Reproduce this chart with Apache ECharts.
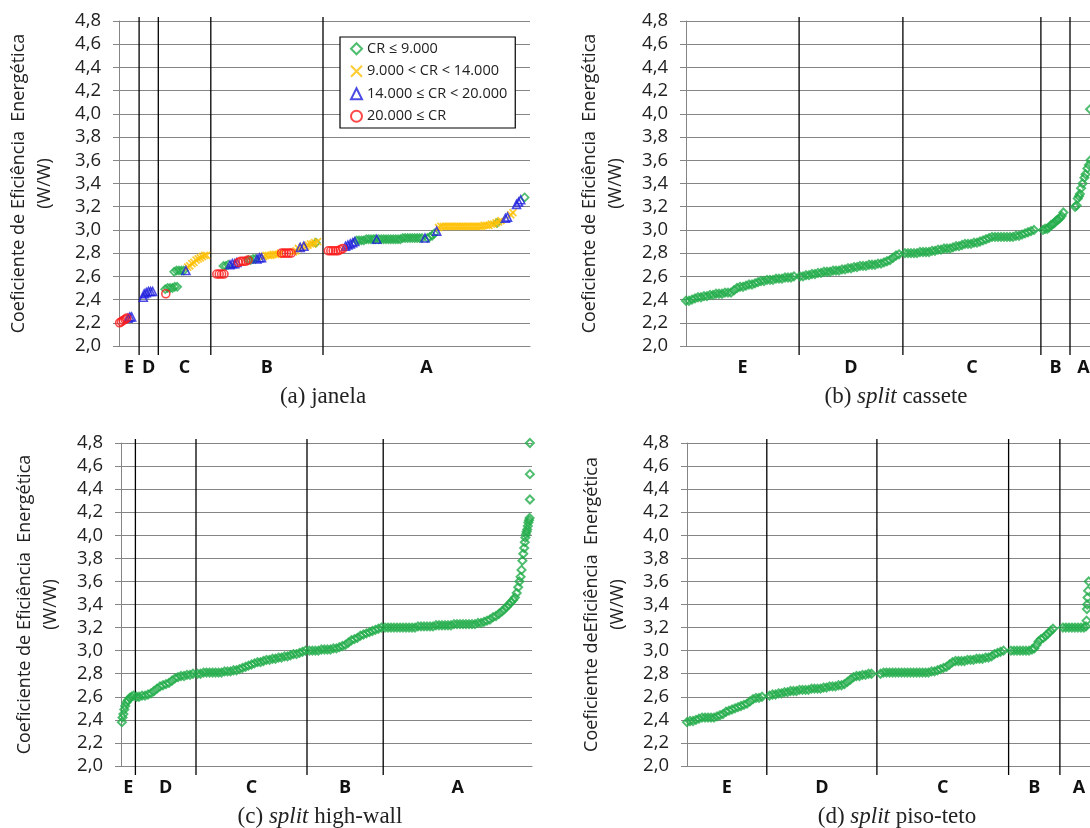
<!DOCTYPE html>
<html><head><meta charset="utf-8">
<script src="https://cdn.jsdelivr.net/npm/echarts@6/dist/echarts.min.js"></script>
<style>html,body{margin:0;padding:0;background:#fff}#c{width:1090px;height:828px}</style>
</head><body><div id="c"></div>
<script>
// ---------- DATA ----------
const yTickLabels = ['2,0','2,2','2,4','2,6','2,8','3,0','3,2','3,4','3,6','3,8','4,0','4,2','4,4','4,6','4,8'];
const classLabels = ['E','D','C','B','A'];
const legendNames = ['CR \u2264 9.000','9.000 < CR < 14.000','14.000 \u2264 CR < 20.000','20.000 \u2264 CR'];

// class boundaries (rank units) per panel
const janelaBounds   = [0, 6.7, 13.1, 30.6, 68, 137];
const casseteBounds  = [0, 37.7, 72.3, 118.3, 128, 137];
const highwallBounds = [0, 4.8, 25, 62, 87.4, 137];
const pisotetoBounds = [0, 26.6, 63.3, 107.2, 124.3, 137];

// (a) janela - [rank, COP]
const janelaGreen = [[15.4,2.49],[16.2,2.50],[17,2.50],[17.8,2.50],[18.6,2.51],[19.4,2.51],
[18.4,2.64],[19.2,2.65],[20,2.65],[20.8,2.65],[21.6,2.65],
[34.8,2.69],[35.6,2.69],[36.4,2.70],
[43.1,2.74],[43.9,2.74],[44.7,2.75],[45.5,2.75],
[65.6,2.89],
[79.2,2.91],[80,2.91],[80.8,2.91],[81.6,2.91],[82.4,2.92],[83.2,2.92],[84,2.92],[84.8,2.92],[85.4,2.92],[86.6,2.92],[87.4,2.92],[88.2,2.92],[89,2.92],[89.8,2.92],[90.6,2.92],[91.4,2.92],[92.2,2.92],[93,2.92],[93.8,2.92],[94.6,2.93],[95.4,2.93],[96.2,2.93],[97,2.93],[97.8,2.93],[98.6,2.93],[99.4,2.93],[100.2,2.93],[101,2.93],[102.8,2.93],[103.6,2.94],[104.4,2.95],[105.1,2.97],
[126,3.06],
[135.2,3.28]];
const janelaYellow = [[22.9,2.68],[23.6,2.69],[24.3,2.71],[25,2.72],[25.7,2.74],[26.4,2.75],[27.1,2.76],[27.8,2.77],[28.5,2.78],[29.2,2.78],
[48.2,2.77],[49,2.78],[49.8,2.78],[50.6,2.78],[51.4,2.79],[52.2,2.79],[53,2.79],[53.8,2.80],
[58.2,2.81],[59,2.82],[59.8,2.84],[61,2.85],[62.3,2.86],[63,2.87],[63.8,2.88],[64.6,2.88],[65.2,2.89],[66.2,2.90],
[106.5,3.02],[107.3,3.03],[108.1,3.03],[108.9,3.03],[109.7,3.03],[110.5,3.03],[111.3,3.03],[112.1,3.03],[112.9,3.03],[113.7,3.03],[114.5,3.03],[115.3,3.03],[116.1,3.03],[116.9,3.03],[117.7,3.03],[118.5,3.03],[119.3,3.03],[120.1,3.03],[120.9,3.03],[121.7,3.04],[122.5,3.04],[123.3,3.04],[124.1,3.05],[124.9,3.05],[125.7,3.06],[126.5,3.07],[127.3,3.08],
[130.6,3.13],[131.3,3.15]];
const janelaBlue = [[3,2.24],[3.6,2.25],[4.2,2.25],
[8.1,2.42],[8.4,2.45],[9.1,2.46],[9.8,2.47],[10.5,2.47],[11.2,2.47],
[22.3,2.65],
[37,2.70],[37.8,2.71],[38.6,2.71],[39.3,2.72],
[46,2.75],[46.8,2.76],[47.5,2.76],
[60.4,2.85],[61.6,2.86],
[75.5,2.86],[76.3,2.87],[77.1,2.88],[77.9,2.89],[78.6,2.90],
[85.9,2.92],[102,2.93],[105.9,2.99],
[128.8,3.10],[129.5,3.11],
[132.5,3.22],[133.2,3.24],[133.9,3.26]];
const janelaRed = [[0.2,2.20],[0.8,2.21],[1.4,2.22],[2,2.23],[2.6,2.24],
[15.6,2.45],
[32.6,2.62],[33.4,2.62],[34.2,2.62],[35,2.62],
[39.8,2.72],[40.6,2.73],[41.4,2.73],[42.2,2.73],[43,2.74],
[54.2,2.80],[55,2.80],[55.8,2.80],[56.6,2.80],[57.4,2.80],
[69.8,2.82],[70.6,2.82],[71.4,2.82],[72.2,2.82],[73,2.82],[73.8,2.83],[74.6,2.84]];

// (b) split cassete
const cassete = [[0,2.39],[1,2.39],[2,2.40],[3,2.41],[4,2.42],[5,2.42],[6,2.43],[7,2.43],[8,2.44],[9,2.44],[10,2.45],[11,2.45],[12,2.45],[13,2.46],[14,2.46],[15,2.46],[16,2.48],[17,2.50],[18,2.51],[19,2.51],[20,2.52],[21,2.53],[22,2.53],[23,2.54],[24,2.55],[25,2.56],[26,2.56],[27,2.57],[28,2.57],[29,2.57],[30,2.58],[31,2.58],[32,2.58],[33,2.59],[34,2.59],[35,2.59],[36,2.60],
[38,2.60],[39,2.60],[40,2.61],[41,2.61],[42,2.62],[43,2.62],[44,2.63],[45,2.63],[46,2.64],[47,2.64],[48,2.64],[49,2.65],[50,2.65],[51,2.65],[52,2.66],[53,2.66],[54,2.67],[55,2.67],[56,2.68],[57,2.68],[58,2.69],[59,2.69],[60,2.69],[61,2.70],[62,2.70],[63,2.70],[64,2.71],[65,2.71],[66,2.72],[67,2.73],[68,2.74],[69,2.76],[70,2.78],[71,2.79],
[73,2.80],[74,2.80],[75,2.80],[76,2.80],[77,2.80],[78,2.81],[79,2.81],[80,2.81],[81,2.81],[82,2.82],[83,2.82],[84,2.83],[85,2.83],[86,2.84],[87,2.84],[88,2.84],[89,2.85],[90,2.86],[91,2.86],[92,2.87],[93,2.88],[94,2.88],[95,2.88],[96,2.89],[97,2.89],[98,2.90],[99,2.91],[100,2.92],[101,2.93],[102,2.94],[103,2.94],[104,2.94],[105,2.94],[106,2.94],[107,2.94],[108,2.94],[109,2.94],[110,2.95],[111,2.95],[112,2.96],[113,2.97],[114,2.98],[115,2.99],[116,3.00],
[119,3.00],[119.7,3.01],[120.4,3.01],[121,3.02],[121.6,3.04],[122.2,3.05],[122.8,3.06],[123.4,3.08],[124,3.09],[124.6,3.10],[125.2,3.12],[125.8,3.15],
[129.7,3.20],[130.2,3.21],[130.6,3.27],[131,3.29],[131.3,3.31],[131.7,3.36],[132.2,3.40],[132.8,3.45],[133.2,3.48],[133.8,3.53],[134.3,3.56],[134.8,3.60],[134.7,4.04]];

// (c) split high-wall
const highwall = [[0.3,2.38],[0.5,2.42],[0.8,2.45],[1.1,2.49],[1.4,2.52],[1.8,2.55],[2.3,2.57],[2.9,2.59],[3.5,2.60],[4.2,2.61],
[5.2,2.60],[6,2.60],[7,2.61],[8,2.61],[9,2.62],[10,2.63],[11,2.65],[12,2.67],[13,2.69],[14,2.70],[15,2.71],[16,2.72],[17,2.74],[18,2.76],[19,2.77],[20,2.78],[21,2.78],[22,2.79],[23,2.79],[24,2.80],
[25.5,2.80],[26.5,2.80],[27.5,2.81],[28.5,2.81],[29.5,2.81],[30.5,2.81],[31.5,2.81],[32.5,2.81],[33.5,2.81],[34.5,2.82],[35.5,2.82],[36.5,2.82],[37.5,2.83],[38.5,2.83],[39.5,2.84],[40.5,2.85],[41.5,2.86],[42.5,2.87],[43.5,2.88],[44.5,2.89],[45.5,2.90],[46.5,2.90],[47.5,2.91],[48.5,2.92],[49.5,2.92],[50.5,2.93],[51.5,2.93],[52.5,2.94],[53.5,2.94],[54.5,2.95],[55.5,2.95],[56.5,2.96],[57.5,2.97],[58.5,2.97],[59.5,2.98],[60.5,2.99],[61.5,3.00],
[62.8,3.00],[63.8,3.00],[64.8,3.00],[65.8,3.00],[66.8,3.01],[67.8,3.01],[68.8,3.01],[69.8,3.01],[70.8,3.02],[71.8,3.02],[72.8,3.03],[73.8,3.04],[74.8,3.05],[75.8,3.07],[76.8,3.09],[77.8,3.10],[78.8,3.11],[79.8,3.13],[80.8,3.14],[81.8,3.15],[82.8,3.16],[83.8,3.17],[84.8,3.18],[85.8,3.19],[86.8,3.20],
[88,3.20],[89,3.20],[90,3.20],[91,3.20],[92,3.20],[93,3.20],[94,3.20],[95,3.20],[96,3.20],[97,3.20],[98,3.20],[99,3.21],[100,3.21],[101,3.21],[102,3.21],[103,3.21],[104,3.21],[105,3.22],[106,3.22],[107,3.22],[108,3.22],[109,3.22],[110,3.22],[111,3.23],[112,3.23],[113,3.23],[114,3.23],[115,3.23],[116,3.23],[117,3.23],[118,3.23],[119,3.24],[120,3.24],[121,3.25],[122,3.26],[123,3.27],[124,3.29],[125,3.30],[126,3.32],[127,3.34],[127.8,3.36],[128.6,3.38],[129.3,3.40],[130,3.42],[130.7,3.44],[131.3,3.46],[131.9,3.50],[132.4,3.55],[132.8,3.60],[133.2,3.64],[133.5,3.70],[133.8,3.78],[134.1,3.84],[134.4,3.89],[134.6,3.94],[134.8,3.98],[135,4.01],[135.2,4.03],[135.4,4.05],[135.6,4.08],[135.8,4.11],[136,4.13],[136.2,4.15],[136.3,4.31],[136.3,4.53],[136.3,4.80]];

// (d) split piso-teto
const pisoteto = [[0,2.38],[1,2.39],[2,2.39],[3,2.40],[4,2.41],[5,2.42],[6,2.42],[7,2.42],[8,2.42],[9,2.42],[10,2.43],[11,2.44],[12,2.45],[13,2.47],[14,2.48],[15,2.49],[16,2.50],[17,2.51],[18,2.52],[19,2.53],[20,2.54],[21,2.56],[22,2.58],[23,2.59],[24,2.59],[25,2.60],
[27.5,2.61],[28.5,2.62],[29.5,2.62],[30.5,2.63],[31.5,2.63],[32.5,2.64],[33.5,2.64],[34.5,2.65],[35.5,2.65],[36.5,2.65],[37.5,2.66],[38.5,2.66],[39.5,2.66],[40.5,2.66],[41.5,2.67],[42.5,2.67],[43.5,2.67],[44.5,2.67],[45.5,2.68],[46.5,2.68],[47.5,2.69],[48.5,2.69],[49.5,2.69],[50.5,2.70],[51.5,2.70],[52.5,2.71],[53.5,2.73],[54.5,2.75],[55.5,2.77],[56.5,2.78],[57.5,2.78],[58.5,2.79],[59.5,2.79],[60.5,2.80],[61.5,2.80],
[64.5,2.80],[65.5,2.81],[66.5,2.81],[67.5,2.81],[68.5,2.81],[69.5,2.81],[70.5,2.81],[71.5,2.81],[72.5,2.81],[73.5,2.81],[74.5,2.81],[75.5,2.81],[76.5,2.81],[77.5,2.81],[78.5,2.81],[79.5,2.81],[80.5,2.81],[81.5,2.82],[82.5,2.82],[83.5,2.83],[84.5,2.84],[85.5,2.85],[86.5,2.86],[87.5,2.88],[88.5,2.90],[89.5,2.91],[90.5,2.91],[91.5,2.91],[92.5,2.91],[93.5,2.92],[94.5,2.92],[95.5,2.92],[96.5,2.93],[97.5,2.93],[98.5,2.93],[99.5,2.94],[100.5,2.94],[101.5,2.95],[102.5,2.97],[103.5,2.98],[104.5,2.99],[105.5,3.00],
[108,3.00],[109,3.00],[110,3.00],[111,3.00],[112,3.00],[113,3.00],[114,3.00],[115,3.01],[115.8,3.02],[116.5,3.05],[117.2,3.08],[118,3.10],[118.8,3.11],[119.6,3.13],[120.4,3.15],[121.2,3.17],[122,3.19],
[125.3,3.20],[126.3,3.20],[127.3,3.20],[128.3,3.20],[129.3,3.20],[130.3,3.20],[131.3,3.20],[132.3,3.20],[133,3.21],[133.2,3.26],[133.3,3.36],[133.4,3.40],[133.5,3.46],[133.7,3.52],[133.9,3.60]];

// ---------- STYLE / LAYOUT ----------
const GREEN = '#22ac4a', YELLOW = '#ffbf00', BLUE = '#1f1fdd', RED = '#ff1a1a';
const GRID_COL = '#858585';
const FONT = "'Open Sans', 'Noto Sans', sans-serif";
const SERIF = "'Liberation Serif', 'DejaVu Serif', serif";
const titleName = 'Coeficiente de Efici\u00eancia  Energ\u00e9tica\n(W/W)';
const titleNameD = 'Coeficiente deEfici\u00eancia  Energ\u00e9tica\n(W/W)';

const panels = [
  {grid:{left:119, top:21, width:411, height:325}, name:titleName, gap:61, bounds:janelaBounds},
  {grid:{left:686, top:21, width:411, height:325}, name:titleName, gap:57, bounds:casseteBounds},
  {grid:{left:121, top:443, width:411, height:323}, name:titleName, gap:57, bounds:highwallBounds},
  {grid:{left:687, top:443, width:411, height:323}, name:titleNameD, gap:56, bounds:pisotetoBounds}
];

const grids = [], xAxes = [], yAxes = [], series = [];
panels.forEach((p, i) => {
  grids.push(Object.assign({outerBoundsMode:'none', containLabel:false}, p.grid));
  xAxes.push({type:'value', gridIndex:i, min:0, max:137,
    axisLine:{show:true, lineStyle:{color:GRID_COL, width:1}}, axisTick:{show:false},
    axisLabel:{show:false}, splitLine:{show:false}});
  yAxes.push({type:'value', gridIndex:i, min:2.0, max:4.8, interval:0.2,
    axisLine:{show:true, lineStyle:{color:GRID_COL, width:1}},
    axisTick:{show:true, length:6, lineStyle:{color:GRID_COL}},
    splitLine:{show:true, lineStyle:{color:GRID_COL, width:1}},
    axisLabel:{margin:18, color:'#222', fontFamily:FONT, fontSize:18.5,
      formatter:v => yTickLabels[Math.round((v - 2.0) / 0.2)]},
    name:p.name, nameLocation:'middle', nameRotate:90, nameGap:p.gap,
    nameTextStyle:{fontFamily:FONT, fontSize:18, color:'#222', lineHeight:26, align:'center'}});
  const seps = p.bounds.slice(1, -1).map(b => [b, 2.0]);
  series.push({type:'custom', xAxisIndex:i, yAxisIndex:i, z:1, silent:true, clip:false,
    data:seps,
    renderItem:(params, api) => {
      const t = api.coord([api.value(0), 4.8]);
      const b = api.coord([api.value(0), 2.0]);
      return {type:'line', shape:{x1:t[0], y1:t[1]-4, x2:b[0], y2:b[1]+9},
        style:{stroke:'#000', lineWidth:1.3}};
    }});
  const mids = classLabels.map((c, k) => [(p.bounds[k] + p.bounds[k+1]) / 2, 2.0, c]);
  series.push({type:'custom', xAxisIndex:i, yAxisIndex:i, z:3, silent:true, clip:false,
    data:mids,
    renderItem:(params, api) => {
      const c = api.coord([api.value(0), 2.0]);
      return {type:'text', x:c[0], y:c[1]+22,
        style:{text:classLabels[params.dataIndex], font:"bold 18px 'Open Sans', sans-serif",
          fill:'#111', align:'center', verticalAlign:'middle'}};
    }});
});

const hollow = (col, bw) => ({color:'rgba(255,255,255,0)', borderColor:col, borderWidth:bw});
const X_PATH = 'path://M0,0L10,10M10,0L0,10';

series.push({name:legendNames[0], type:'scatter', xAxisIndex:0, yAxisIndex:0, symbol:'diamond', symbolSize:8, z:4, itemStyle:hollow(GREEN,1.7), data:janelaGreen});
series.push({name:legendNames[1], type:'scatter', xAxisIndex:0, yAxisIndex:0, symbol:X_PATH, symbolSize:7, z:4, itemStyle:hollow(YELLOW,1.8), data:janelaYellow});
series.push({name:legendNames[2], type:'scatter', xAxisIndex:0, yAxisIndex:0, symbol:'triangle', symbolSize:8, z:4, itemStyle:hollow(BLUE,1.6), data:janelaBlue});
series.push({name:legendNames[3], type:'scatter', xAxisIndex:0, yAxisIndex:0, symbol:'circle', symbolSize:8, z:4, itemStyle:hollow(RED,1.6), data:janelaRed});
[[1, cassete], [2, highwall], [3, pisoteto]].forEach(([i, d]) => {
  series.push({name:'verde' + i, type:'scatter', xAxisIndex:i, yAxisIndex:i, symbol:'diamond', symbolSize:8, z:4, clip:false,
    itemStyle:hollow(GREEN,2), data:d});
});

const capStyle = {fontFamily:SERIF, fontSize:23, color:'#222', fontWeight:'normal'};
const cap = (pre, ital, post, left, top) => ({
  text: ital ? '{n|' + pre + '}{i|' + ital + '}{n|' + post + '}' : '{n|' + pre + '}',
  left, top, textAlign:'center',
  textStyle:Object.assign({}, capStyle, {rich:{n:capStyle, i:Object.assign({}, capStyle, {fontStyle:'italic'})}})
});

const option = {
  animation:false,
  backgroundColor:'#fff',
  title:[
    cap('(a) janela', null, '', 318, 380),
    cap('(b) ', 'split', ' cassete', 891, 380),
    cap('(c) ', 'split', ' high-wall', 315, 800),
    cap('(d) ', 'split', ' piso-teto', 892, 800)
  ],
  legend:{data:legendNames, orient:'vertical', left:340, top:37,
    backgroundColor:'#fff', borderColor:'#000', borderWidth:1.2,
    padding:[4,8,4,10], itemGap:7, itemWidth:11, itemHeight:11,
    textStyle:{fontFamily:FONT, fontSize:14.5, color:'#222', lineHeight:15.5}},
  grid:grids, xAxis:xAxes, yAxis:yAxes, series
};

const chart = echarts.init(document.getElementById('c'), null, {renderer:'canvas'});
chart.setOption(option);
</script></body></html>
